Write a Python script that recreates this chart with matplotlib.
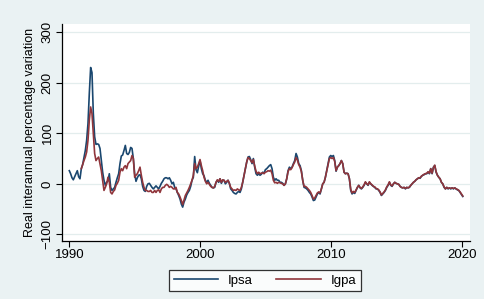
import numpy as np
import matplotlib
matplotlib.use("Agg")
from matplotlib import pyplot as plt

plt.rcParams['font.family'] = ['Liberation Sans', 'DejaVu Sans']

# readings, roughly every 0.102 years from 1990.0 to 2020.08
ipsa = [26, 20, 12, 8, 14, 20, 26, 14, 10, 30,
        38, 52, 66, 86, 119, 179, 230, 220, 139, 93,
        78, 79, 78, 70, 46, 23, 7, -3, 3, 6,
        20, -7, -13, -10, -7, 3, 12, 20, 40, 55,
        57, 66, 76, 60, 58, 62, 72, 70, 50, 20,
        5, 12, 17, 18, 10, -5, -13, -15, -5, 0,
        1, -3, -7, -10, -7, -4, -7, -10, -5, 1,
        5, 10, 12, 12, 10, 12, 7, 0, 3, -7,
        -10, -17, -23, -30, -40, -46, -36, -30, -22, -17,
        -13, -5, 7, 13, 54, 28, 22, 35, 46, 30,
        20, 16, 7, 3, 7, 1, -3, -7, -8, -7,
        3, 7, 3, 10, 1, 7, 7, 0, 3, 7,
        1, -10, -13, -17, -19, -20, -17, -15, -17, -10,
        3, 17, 30, 43, 53, 54, 48, 40, 50, 33,
        20, 17, 20, 17, 19, 23, 21, 28, 30, 33,
        36, 38, 30, 13, 7, 10, 7, 7, 3, 3,
        1, -3, 0, 10, 26, 33, 30, 33, 40, 46,
        60, 53, 40, 36, 26, 7, -7, -8, -10, -13,
        -17, -20, -26, -33, -32, -26, -20, -17, -20, -10,
        0, 3, 13, 26, 40, 53, 56, 54, 56, 46,
        25, 33, 36, 40, 46, 40, 23, 20, 21, 20,
        10, -13, -20, -17, -19, -13, -7, -3, -8, -10,
        -7, -3, 3, 0, -3, 3, 0, -3, -5, -7,
        -10, -10, -13, -17, -23, -20, -17, -13, -7, -3,
        3, -3, -5, 0, 3, 1, 0, -1, -5, -7,
        -8, -7, -10, -7, -8, -7, -3, 0, 3, 5,
        8, 10, 12, 11, 15, 17, 18, 20, 20, 23,
        20, 30, 20, 33, 36, 23, 17, 13, 10, 3,
        0, -7, -10, -7, -10, -8, -10, -8, -10, -8,
        -10, -12, -13, -17, -21, -25]

nan = np.nan
igpa = [nan, nan, nan, nan, nan, nan, nan, nan, nan, 30,
        38, 46, 53, 63, 86, 126, 152, 139, 99, 60,
        46, 50, 53, 40, 26, 7, -13, -7, 0, 13,
        3, -17, -20, -15, -12, -3, 1, 7, 23, 30,
        26, 33, 36, 30, 40, 43, 46, 56, 50, 13,
        17, 20, 26, 33, 17, 3, -7, -13, -13, -15,
        -15, -13, -17, -17, -13, -17, -13, -12, -17, -10,
        -7, -7, -3, -1, -3, -7, -5, -7, -10, -10,
        -7, -17, -20, -26, -33, -41, -32, -23, -18, -13,
        -7, 0, 7, 17, 40, 30, 33, 40, 48, 36,
        26, 13, 5, 0, 3, -1, -5, -7, -8, -5,
        3, 8, 5, 10, 3, 8, 7, 3, 5, 7,
        1, -7, -10, -13, -12, -13, -10, -12, -13, -7,
        3, 17, 30, 43, 52, 50, 46, 42, 48, 35,
        25, 20, 23, 20, 21, 22, 20, 23, 24, 26,
        25, 27, 20, 7, 2, 3, 1, 3, 2, 1,
        0, -3, 0, 10, 24, 30, 28, 32, 38, 43,
        52, 47, 38, 33, 24, 7, -5, -5, -7, -10,
        -13, -17, -23, -30, -28, -23, -18, -16, -18, -10,
        0, 3, 13, 25, 38, 50, 52, 50, 52, 44,
        26, 33, 36, 40, 46, 40, 23, 20, 21, 20,
        10, -11, -18, -15, -17, -12, -7, -3, -7, -9,
        -6, -2, 4, 0, -2, 4, 0, -2, -5, -6,
        -9, -10, -12, -16, -22, -19, -16, -12, -6, -2,
        4, -2, -4, 0, 3, 1, 0, -1, -5, -7,
        -8, -7, -9, -7, -8, -6, -3, 0, 3, 5,
        8, 10, 12, 12, 15, 17, 19, 20, 21, 24,
        21, 30, 21, 32, 37, 24, 17, 13, 10, 3,
        0, -6, -10, -7, -9, -8, -9, -8, -9, -8,
        -10, -11, -13, -16, -20, -24]

years = np.linspace(1990.0, 2020.08, len(ipsa))

bg = '#eaf2f3'
fig = plt.figure(figsize=(4.85, 2.99), dpi=100, facecolor=bg)
ax = fig.add_axes([0.1278, 0.194, 0.8412, 0.7257])
ax.set_facecolor('white')

ax.plot(years, ipsa, color='#1a476f', lw=1.2, label='Ipsa')
ax.plot(years, igpa, color='#90353b', lw=1.2, label='Igpa')

ax.set_xlim(1989.44, 2020.63)
ax.set_ylim(-113, 316)
ax.set_xticks([1990, 2000, 2010, 2020])
ax.set_yticks([-100, 0, 100, 200, 300])
ax.grid(axis='y', color='#e3eded', lw=0.9)
ax.set_axisbelow(True)

for s in ['top', 'right']:
    ax.spines[s].set_visible(False)
for s in ['left', 'bottom']:
    ax.spines[s].set_linewidth(0.9)

ax.tick_params(labelsize=9.5, length=4, width=0.8, colors='black')
ax.tick_params(axis='x', pad=2)
ax.tick_params(axis='y', pad=2)
plt.setp(ax.get_yticklabels(), rotation=90, va='center')
ax.set_ylabel('Real interannual percentage variation', fontsize=9, labelpad=4)

leg = fig.legend(loc='center', bbox_to_anchor=(0.546, 0.062), ncol=2,
                 fontsize=9.5, frameon=True, fancybox=False, handlelength=3.4,
                 handletextpad=0.7, columnspacing=1.8, borderpad=0.35)
leg.get_frame().set_edgecolor('black')
leg.get_frame().set_linewidth(0.9)

fig.savefig('out.png', dpi=100, facecolor=bg)
